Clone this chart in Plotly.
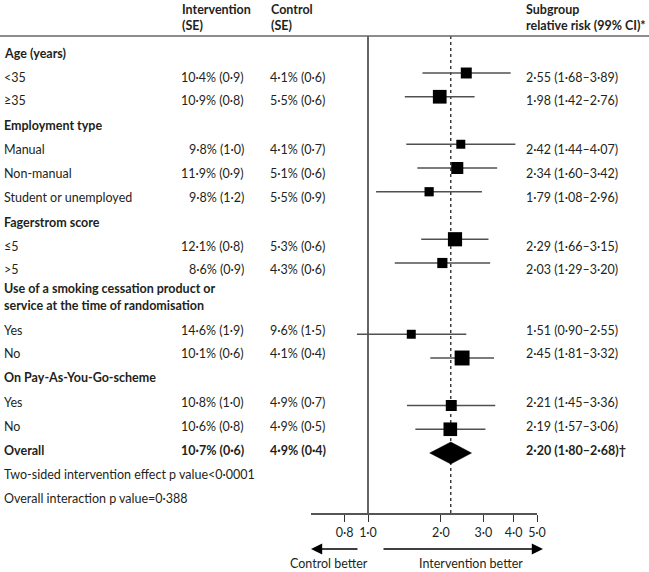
import math
import plotly.graph_objects as go

# ---------------- data ----------------
row_labels = ["Age (years)", "<35", "≥35", "Employment type", "Manual", "Non-manual",
              "Student or unemployed", "Fagerstrom score", "≤5", ">5",
              "Use of a smoking cessation product or", "service at the time of randomisation",
              "Yes", "No", "On Pay-As-You-Go-scheme", "Yes", "No", "Overall",
              "Two-sided intervention effect p value<0·0001",
              "Overall interaction p value=0·388"]
bold_rows = [0, 3, 7, 10, 11, 14, 17]
int_pct = [None, 10.4, 10.9, None, 9.8, 11.9, 9.8, None, 12.1, 8.6, None, None, 14.6, 10.1, None, 10.8, 10.6, 10.7, None, None]
int_se = [None, 0.9, 0.8, None, 1.0, 0.9, 1.2, None, 0.8, 0.9, None, None, 1.9, 0.6, None, 1.0, 0.8, 0.6, None, None]
ctl_pct = [None, 4.1, 5.5, None, 4.1, 5.1, 5.5, None, 5.3, 4.3, None, None, 9.6, 4.1, None, 4.9, 4.9, 4.9, None, None]
ctl_se = [None, 0.6, 0.6, None, 0.7, 0.6, 0.9, None, 0.6, 0.6, None, None, 1.5, 0.4, None, 0.7, 0.5, 0.4, None, None]
rr = [None, 2.55, 1.98, None, 2.42, 2.34, 1.79, None, 2.29, 2.03, None, None, 1.51, 2.45, None, 2.21, 2.19, 2.20, None, None]
rr_lo = [None, 1.68, 1.42, None, 1.44, 1.60, 1.08, None, 1.66, 1.29, None, None, 0.90, 1.81, None, 1.45, 1.57, 1.80, None, None]
rr_hi = [None, 3.89, 2.76, None, 4.07, 3.42, 2.96, None, 3.15, 3.20, None, None, 2.55, 3.32, None, 3.36, 3.06, 2.68, None, None]
overall_row = 17
tick_vals = [0.8, 1.0, 2.0, 3.0, 4.0, 5.0]
tick_text = ["0·8", "1·0", "2·0", "3·0", "4·0", "5·0"]
col_headers = ["Intervention<br>(SE)", "Control<br>(SE)", "Subgroup<br>relative risk (99% CI)*"]
direction_labels = ["Control better", "Intervention better"]

# ---------------- layout constants ----------------
W, H = 649, 572
PL, PR, PT, PB = 311, 537, 36, 513          # plot area in pixels
ROW0, ROWH = 49.25, 23.75
FONT = "Lato"
FS = 12.5
TXT = "#231f20"
GREY = "#505050"
# vertical centre (pixels) of each text line
TEXT_PX = [53, 77, 100, 125, 149, 173, 197, 222, 246, 269, 288, 305,
           330, 353, 377, 402, 426, 450, 474, 498]


def fmt(v, nd=1):
    return f"{v:.{nd}f}".replace(".", "·")


def px2paper_x(px):
    return (px - PL) / (PR - PL)


def px2row(py):
    return (py - ROW0) / ROWH


def px2paper_y(py):
    return (PB - py) / (PB - PT)


row_y = [float(i) for i in range(len(row_labels))]
text_y = [px2row(p + 0.5) for p in TEXT_PX]

fig = go.Figure()

y_top, y_bot = px2row(PT), px2row(PB)
# reference line at 1 and dashed overall line
fig.add_trace(go.Scatter(x=[1, 1], y=[y_top, y_bot], mode="lines",
                         line=dict(color="#111111", width=1.3), hoverinfo="skip"))
fig.add_trace(go.Scatter(x=[rr[overall_row]] * 2, y=[y_top, y_bot], mode="lines",
                         line=dict(color="#111111", width=1.2, dash="3px,3px"), hoverinfo="skip"))

# CI lines and squares
for i in range(len(row_labels)):
    if rr[i] is None or i == overall_row:
        continue
    fig.add_trace(go.Scatter(x=[rr_lo[i], rr_hi[i]], y=[row_y[i]] * 2, mode="lines",
                             line=dict(color=GREY, width=1.5), hoverinfo="skip"))
for i in range(len(row_labels)):
    if rr[i] is None or i == overall_row:
        continue
    se = math.log(rr_hi[i] / rr_lo[i])
    size = 8.7 / se + 0.6
    fig.add_trace(go.Scatter(x=[rr[i]], y=[row_y[i]], mode="markers",
                             marker=dict(symbol="square", size=size, color="black",
                                         line=dict(width=0)),
                             hoverinfo="skip"))

# overall diamond
r = overall_row
dh = 0.46
fig.add_trace(go.Scatter(x=[rr_lo[r], rr[r], rr_hi[r], rr[r], rr_lo[r]],
                         y=[row_y[r], row_y[r] - dh, row_y[r], row_y[r] + dh, row_y[r]],
                         mode="lines", fill="toself", fillcolor="black",
                         line=dict(color="black", width=0.5), hoverinfo="skip"))

ann = []


def add_text(text, px, y, anchor="left", bold=False, yref="y"):
    if bold:
        text = f"<b>{text}</b>"
    ann.append(dict(text=text, x=px2paper_x(px), xref="paper", y=y, yref=yref,
                    xanchor=anchor, yanchor="middle", showarrow=False,
                    font=dict(family=FONT, size=FS, color=TXT), align="left"))


for i, lab in enumerate(row_labels):
    b = i in bold_rows
    add_text(lab, 2, text_y[i], bold=b)
    if int_pct[i] is not None:
        add_text(f"{fmt(int_pct[i])}% ({fmt(int_se[i])})", 246, text_y[i], anchor="right", bold=b)
        add_text(f"{fmt(ctl_pct[i])}% ({fmt(ctl_se[i])})", 268, text_y[i], bold=b)
    if rr[i] is not None:
        t = f"{fmt(rr[i], 2)} ({fmt(rr_lo[i], 2)}–{fmt(rr_hi[i], 2)})"
        if i == overall_row:
            t += "†"
        add_text(t, 524, text_y[i], bold=b)

# column headers
for text, px in zip(col_headers, [180, 269, 524]):
    ann.append(dict(text=f"<b>{text}</b>", x=px2paper_x(px), xref="paper",
                    y=px2paper_y(17), yref="paper", xanchor="left", yanchor="middle",
                    showarrow=False, align="left",
                    font=dict(family=FONT, size=FS, color=TXT)))

# direction arrows
ay = px2paper_y(549)
ann.append(dict(x=px2paper_x(311), y=ay, xref="paper", yref="paper", ax=48, ay=0,
                axref="pixel", ayref="pixel", showarrow=True, arrowhead=2, arrowsize=1.4,
                arrowwidth=1.6, arrowcolor="black", text=""))
ann.append(dict(x=px2paper_x(543), y=ay, xref="paper", yref="paper", ax=-161, ay=0,
                axref="pixel", ayref="pixel", showarrow=True, arrowhead=2, arrowsize=1.4,
                arrowwidth=1.6, arrowcolor="black", text=""))
for text, px in zip(direction_labels, [329, 471]):
    ann.append(dict(text=text, x=px2paper_x(px), y=px2paper_y(563), xref="paper", yref="paper",
                    xanchor="center", yanchor="middle", showarrow=False,
                    font=dict(family=FONT, size=FS, color=TXT)))

# header rule across full width
shapes = [dict(type="line", xref="paper", yref="paper",
               x0=px2paper_x(0), x1=px2paper_x(W), y0=px2paper_y(PT), y1=px2paper_y(PT),
               line=dict(color="#666666", width=1.5))]

xr = [math.log10(1.0) - (368 - PL) / 241.8, math.log10(5.0)]

fig.update_layout(
    width=W, height=H, showlegend=False,
    paper_bgcolor="white", plot_bgcolor="white",
    margin=dict(l=PL, r=W - PR, t=PT, b=H - PB, pad=0),
    annotations=ann, shapes=shapes,
    font=dict(family=FONT, size=FS, color=TXT),
    xaxis=dict(type="log", range=xr, tickvals=tick_vals, ticktext=tick_text,
               showgrid=False, zeroline=False, showline=True, linecolor="#555555",
               linewidth=1.5, ticks="outside", ticklen=7, tickwidth=1.3, tickcolor="#333333",
               tickfont=dict(family=FONT, size=FS, color=TXT), fixedrange=True),
    yaxis=dict(range=[y_bot, y_top], visible=False, fixedrange=True),
)

fig.write_html("out.html", config={"displayModeBar": False},
               post_script="document.body.style.margin='0';document.body.style.overflow='hidden';")
